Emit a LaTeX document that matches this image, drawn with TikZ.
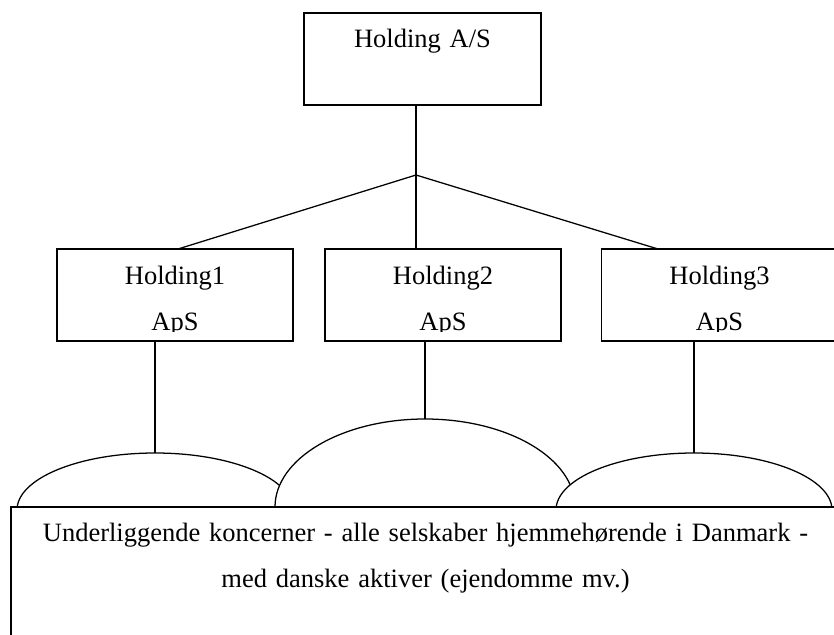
\documentclass[tikz,border=0pt]{standalone}
\usepackage{fontspec}
\setmainfont{Liberation Serif}
\usetikzlibrary{shapes.geometric}
\newcommand{\firmfont}{\fontsize{18.85}{33.2}\selectfont}
\tikzset{
  firm/.style={draw, line width=0.9pt, fill=white, minimum width=5.9cm, minimum height=2.3cm, inner sep=0pt, outer sep=0pt},
  firmname/.style={anchor=base, font=\firmfont, text width=5.6cm, align=center, inner sep=0pt},
  group/.style={ellipse, draw, line width=0.9pt, fill=white, minimum width=6.9cm, minimum height=2.85cm, inner sep=0pt, outer sep=0pt},
  tie/.style={line width=0.9pt}
}
\begin{document}
\begin{tikzpicture}
      \useasboundingbox (0,0) rectangle (20.85,-15.85);
      \draw
        (10.5625,-1.475) node[firm, minimum width=5.925cm] (h0){}
        (4.375,-7.375) node[firm] (h1){}
        (11.075,-7.375) node[firm] (h2){}
        (17.9875,-7.375) node[firm] (h3){}
        (10.4,-4.375) coordinate (fork);
      \node[firmname] (n0) at ([yshift=-0.875cm]h0.north) {Holding A/S};
      \begin{scope}
        \clip (h1.north west) rectangle ([yshift=0.25cm]h1.south east)
              (h2.north west) rectangle ([yshift=0.25cm]h2.south east)
              (h3.north west) rectangle ([yshift=0.25cm]h3.south east);
        \node[firmname] (n1) at ([yshift=-0.875cm]h1.north) {Holding1\\ApS};
        \node[firmname] (n2) at ([yshift=-0.875cm]h2.north) {Holding2\\ApS};
        \node[firmname] (n3) at ([yshift=-0.875cm]h3.north) {Holding3\\ApS};
      \end{scope}
      \begin{scope}[tie]
        \draw (fork |- h0.south) to (fork);
        \draw (fork) to ([xshift=0.075cm]h1.north);
        \draw (fork) to (fork |- h2.north);
        \draw (fork) to ([xshift=-1.5375cm]h3.north);
      \end{scope}
      \draw
        (3.875,-12.75) node[group] (g1){}
        (10.625,-12.675) node[group, minimum width=7.5cm, minimum height=4.4cm] (g2){}
        (17.35,-12.75) node[group] (g3){};
      \begin{scope}[tie]
        \draw (g1.north) to (g1.north |- h1.south);
        \draw (g2.north) to (g2.north |- h2.south);
        \draw (g3.north) to (g3.north |- h3.south);
      \end{scope}
      \node[firm, minimum width=20.725cm, minimum height=4.825cm] (base) at (10.6375,-15.0875) {};
      \node[firmname, text width=20cm] (basetext) at ([yshift=-0.85cm]base.north)
        {Underliggende koncerner - alle selskaber hjemmehørende i Danmark -\\med danske aktiver (ejendomme mv.)};
\end{tikzpicture}
\end{document}
